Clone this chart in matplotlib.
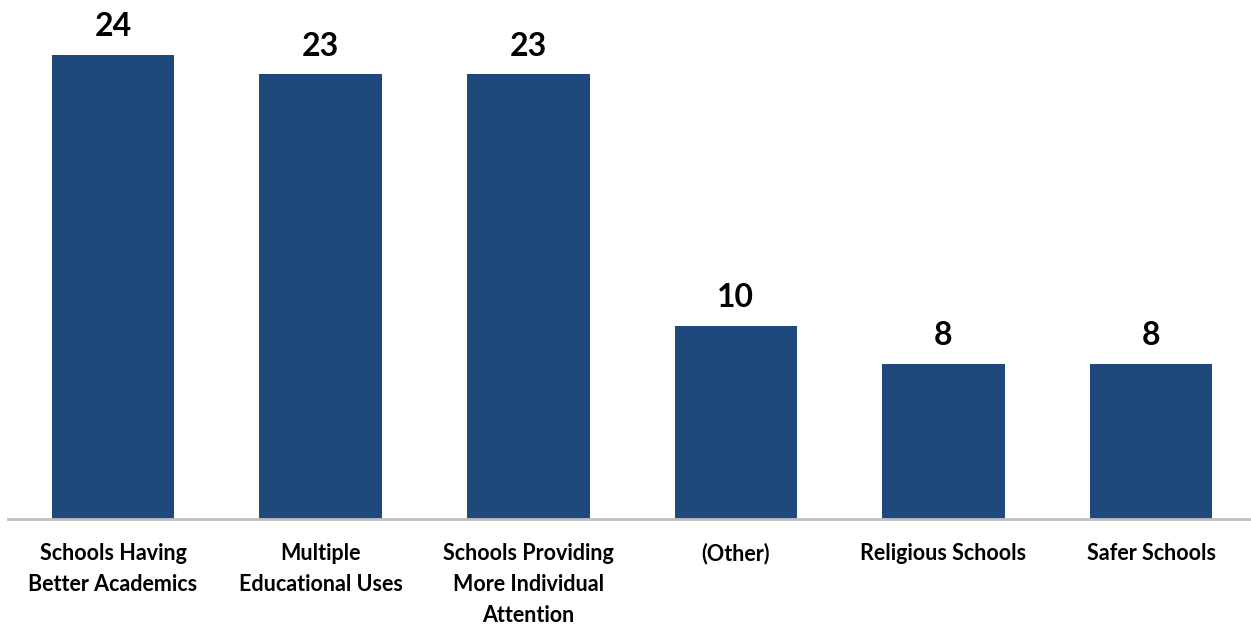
import matplotlib
matplotlib.use("Agg")
import matplotlib.pyplot as plt

categories = [
    "Schools Having\nBetter Academics",
    "Multiple\nEducational Uses",
    "Schools Providing\nMore Individual\nAttention",
    "(Other)",
    "Religious Schools",
    "Safer Schools",
]
values = [24, 23, 23, 10, 8, 8]

plt.rcParams["font.family"] = ["Lato", "DejaVu Sans"]

fig = plt.figure(figsize=(12.51, 6.25), dpi=100)
ax = fig.add_axes([8 / 1251, 106 / 625, 1243 / 1251, 519 / 625])

x = range(len(values))
bars = ax.bar(x, values, width=0.59, color="#1F497D")

for b, v in zip(bars, values):
    ax.annotate(str(v), (b.get_x() + b.get_width() / 2, v),
                xytext=(0, 10), textcoords="offset points",
                ha="center", va="bottom", fontsize=23, fontweight="bold")

ax.set_xlim(-0.506, 5.481)
ax.set_ylim(0, 26.85)
ax.set_xticks(list(x))
ax.set_xticklabels(categories, fontsize=15.5, fontweight="bold", linespacing=1.6)
ax.tick_params(axis="x", length=0, pad=17)
ax.set_yticks([])
for s in ["top", "right", "left"]:
    ax.spines[s].set_visible(False)
ax.spines["bottom"].set_color("#BFBFBF")
ax.spines["bottom"].set_linewidth(2)

fig.savefig("out.png", dpi=100)
